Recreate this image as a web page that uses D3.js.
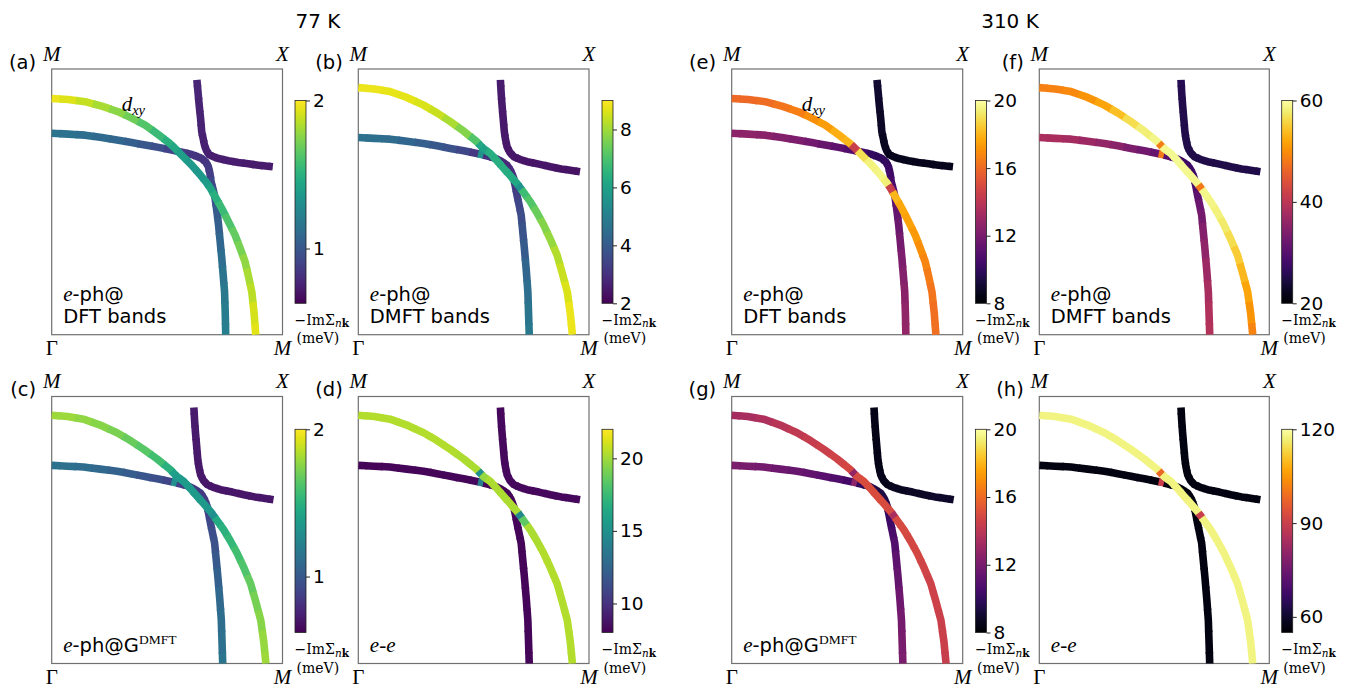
<!DOCTYPE html>
<html><head><meta charset="utf-8">
<script src="https://cdn.jsdelivr.net/npm/d3@7/dist/d3.min.js"></script>
<style>body{margin:0;background:#fff} svg{display:block}</style>
</head><body><svg id="c" width="1352" height="688"></svg>
<script>
// ---------------- DATA ----------------
const titles = ["77 K", "310 K"];
const panelIds = ["a","b","c","d","e","f","g","h"];
const cornerLabels = ["M", "X", "\u0393", "M"];
const noteKinds = ["dft","dmft","gdmft","ee","dft","dmft","gdmft","ee"];
const cmapNames = ["viridis","viridis","viridis","viridis","inferno","inferno","inferno","inferno"];
const geoKinds = ["dft","dmft","dmft","dmft","dft","dmft","dmft","dmft"];

// Fermi-surface k-points (kx, ky in units of pi/a), DFT bands
const dftDxyK = [[0,0.889],[0.072,0.885],[0.145,0.877],[0.217,0.860],[0.289,0.839],[0.347,0.815],[0.405,0.789],[0.462,0.753],[0.510,0.721],[0.530,0.705],[0.563,0.676],[0.607,0.638],[0.645,0.600],[0.672,0.571],[0.688,0.551],[0.708,0.520],[0.737,0.475],[0.766,0.425],[0.795,0.374],[0.817,0.324],[0.838,0.274],[0.853,0.218],[0.867,0.161],[0.877,0.080],[0.884,0]];
const dftBetaK = [[0,0.758],[0.072,0.755],[0.145,0.751],[0.217,0.742],[0.289,0.732],[0.347,0.723],[0.405,0.714],[0.462,0.705],[0.520,0.695],[0.565,0.687],[0.607,0.678],[0.632,0.670],[0.650,0.663],[0.668,0.650],[0.679,0.632],[0.686,0.605],[0.691,0.575],[0.700,0.545],[0.708,0.513],[0.716,0.462],[0.723,0.412],[0.730,0.349],[0.737,0.286],[0.743,0.224],[0.749,0.161],[0.752,0.080],[0.754,0]];
const dftAlphaK = [[0.629,0.959],[0.634,0.912],[0.639,0.864],[0.645,0.814],[0.650,0.764],[0.656,0.739],[0.662,0.714],[0.670,0.694],[0.682,0.678],[0.700,0.670],[0.723,0.663],[0.766,0.655],[0.809,0.648],[0.852,0.643],[0.896,0.638],[0.927,0.635],[0.958,0.632]];
// DMFT bands
const dmftDxyK = [[0,0.930],[0.069,0.925],[0.138,0.915],[0.210,0.893],[0.283,0.864],[0.341,0.835],[0.399,0.802],[0.457,0.766],[0.514,0.726],[0.529,0.712],[0.543,0.700],[0.572,0.682],[0.601,0.655],[0.630,0.626],[0.659,0.598],[0.688,0.569],[0.700,0.555],[0.717,0.535],[0.746,0.500],[0.775,0.458],[0.804,0.412],[0.833,0.358],[0.862,0.299],[0.884,0.232],[0.906,0.161],[0.919,0.080],[0.928,0]];
const dmftBetaK = [[0,0.742],[0.069,0.739],[0.138,0.736],[0.210,0.728],[0.283,0.720],[0.341,0.711],[0.399,0.701],[0.457,0.692],[0.514,0.682],[0.530,0.679],[0.560,0.672],[0.587,0.666],[0.617,0.654],[0.645,0.638],[0.662,0.615],[0.674,0.588],[0.681,0.557],[0.688,0.525],[0.697,0.488],[0.706,0.450],[0.713,0.387],[0.720,0.324],[0.728,0.243],[0.735,0.161],[0.738,0.080],[0.741,0]];
const dmftAlphaK = [[0.616,0.959],[0.619,0.912],[0.623,0.864],[0.628,0.814],[0.633,0.764],[0.638,0.735],[0.645,0.707],[0.657,0.686],[0.674,0.670],[0.700,0.660],[0.732,0.651],[0.783,0.642],[0.833,0.632],[0.880,0.624],[0.925,0.618],[0.961,0.613]];

// -Im Sigma_nk (meV) along each sheet
const dxyA = [1.96,1.93,1.88,1.82,1.76,1.70,1.63,1.56,1.50,1.45,1.40,1.37,1.36,1.38,1.43,1.50,1.56,1.62,1.67,1.72,1.77,1.82,1.86,1.91,1.94];
const betaA = [1.15,1.14,1.12,1.10,1.08,1.04,1.00,0.96,0.90,0.86,0.84,0.83,0.83,0.84,0.86,0.88,0.92,0.95,0.97,1.01,1.04,1.08,1.12,1.15,1.18,1.20,1.21];
const alphaA = [0.77,0.77,0.76,0.76,0.76,0.75,0.75,0.75,0.75,0.74,0.74,0.74,0.74,0.73,0.73,0.73,0.73];

const dxyB = [8.8,8.8,8.75,8.7,8.6,8.4,8.1,7.7,7.1,6.2,6.0,6.4,6.4,6.4,6.3,6.2,5.6,6.8,7.1,7.4,7.7,7.9,8.2,8.4,8.6,8.8,8.8];
const betaB = [4.6,4.55,4.45,4.3,4.1,3.9,3.75,3.5,3.1,5.6,3.0,2.9,2.8,2.8,2.9,3.0,3.1,3.3,3.5,3.6,3.8,4.0,4.3,4.5,4.7,4.8];
const alphaB = [2.5,2.5,2.48,2.46,2.45,2.44,2.43,2.42,2.4,2.4,2.38,2.37,2.36,2.35,2.35,2.35];

const dxyC = [1.80,1.79,1.77,1.75,1.72,1.68,1.64,1.58,1.50,1.40,1.37,1.37,1.37,1.36,1.36,1.35,1.30,1.46,1.50,1.54,1.58,1.62,1.67,1.71,1.75,1.78,1.80];
const betaC = [1.14,1.13,1.11,1.08,1.05,1.02,0.99,0.95,0.91,1.30,0.88,0.86,0.85,0.85,0.85,0.87,0.89,0.92,0.95,0.97,1.00,1.04,1.08,1.11,1.13,1.15];
const alphaC = [0.72,0.72,0.72,0.71,0.71,0.71,0.71,0.71,0.70,0.70,0.70,0.70,0.70,0.70,0.70,0.70];

const dxyD = [20.4,20.4,20.4,20.4,20.4,20.4,20.4,20.3,20.2,15.0,19.8,20.3,20.3,20.3,20.3,20.2,14.5,18.5,20.2,20.3,20.4,20.4,20.4,20.4,20.4,20.4,20.4];
const betaD = [8.2,8.2,8.2,8.2,8.2,8.2,8.2,8.2,8.3,14.0,8.2,8.2,8.2,8.2,8.2,8.2,8.3,8.2,8.2,8.2,8.2,8.2,8.2,8.2,8.2,8.2];
const alphaD = [8.3,8.3,8.3,8.3,8.3,8.3,8.3,8.3,8.3,8.3,8.3,8.3,8.3,8.3,8.3,8.3];

const dxyE = [16.0,16.0,16.1,16.3,16.6,17.0,17.4,17.8,18.0,14.5,19.0,19.5,19.6,19.4,14.5,18.0,17.7,17.5,17.3,17.0,16.8,16.5,16.3,16.2,16.2];
const betaE = [12.6,12.6,12.5,12.3,12.1,11.8,11.5,11.2,10.9,10.4,10.1,9.9,9.9,10.0,10.2,10.4,10.6,10.8,11.0,11.3,11.6,11.9,12.1,12.3,12.5,12.7,12.8];
const alphaE = [9.1,9.0,8.9,8.8,8.8,8.7,8.7,8.7,8.6,8.6,8.6,8.6,8.6,8.6,8.6,8.6,8.6];

const dxyF = [48.8,49.0,49.6,50.5,52.0,54.0,56.5,58.0,58.8,48.5,59.0,59.2,59.2,59.2,59.0,58.8,48.0,58.8,58.6,58.3,57.5,56.5,55.0,53.5,52.0,50.5,49.2];
const betaF = [38.4,38.2,37.8,37.0,36.0,35.0,33.8,32.5,31.5,48.0,30.0,29.0,28.0,27.5,27.5,28.0,29.0,30.5,32.0,33.0,34.5,35.5,37.0,38.0,38.8,39.2];
const alphaF = [25.5,25.4,25.3,25.2,25.1,25.0,25.0,25.0,25.0,25.0,25.0,25.0,25.0,25.0,25.0,25.0];

const dxyG = [13.3,13.4,13.6,13.9,14.1,14.3,14.5,14.7,14.8,12.8,14.9,15.0,15.0,15.0,15.0,14.9,13.5,14.9,14.9,14.8,14.8,14.7,14.6,14.6,14.5,14.5,14.4];
const betaG = [12.1,12.0,11.9,11.7,11.5,11.3,11.1,10.8,10.5,12.6,10.0,9.7,9.5,9.4,9.5,9.7,10.0,10.3,10.6,10.9,11.2,11.4,11.7,11.9,12.0,12.1];
const alphaG = [8.5,8.5,8.5,8.5,8.5,8.5,8.6,8.6,8.6,8.7,8.7,8.8,8.8,8.9,8.9,8.9];

const dxyH = [117.5,117.5,117.5,117.5,117.5,117.5,117.5,117.5,117.5,98,117.5,117.5,117.5,117.5,117.5,117.5,90,117.5,117.5,117.5,117.5,117.5,117.5,117.5,117.5,117.5,117.5];
const betaH = [57,57,57,57,57,57,57,57,57,90,57,57,57,57,57,57,57,57,57,57,57,57,57,57,57,57];
const alphaH = [57,57,57,57,57,57,57,57,57,57,57,57,57,57,57,57];

// colour-bar ranges and ticks
const cbarDomains = [[0.63,2.0],[2.0,9.0],[0.62,2.0],[8.0,22.0],[8.0,20.0],[20.0,60.0],[8.0,20.0],[55.0,120.0]];
const cbarTicks = [[1,2],[2,4,6,8],[1,2],[10,15,20],[8,12,16,20],[20,40,60],[8,12,16,20],[60,90,120]];

// ---------------- LAYOUT ----------------
const svg = d3.select("#c");
const defs = svg.append("defs");
const SANS = "DejaVu Sans";
const SERIF = "Liberation Serif";
const SERIF2 = "DejaVu Serif";
const panelCol = [0,1,0,1,2,3,2,3];
const panelRow = [0,0,1,1,0,0,1,1];
const colX = [[51.7,282.5],[358.3,589.0],[731.7,962.7],[1039.3,1269.3]];
const rowY = [[69,334.7],[396.5,663.5]];
const cbX = [295,602,975.5,1281.7];
const cbY = [[100.5,303.3],[429.3,632.5]];
const cbW = 11;

const geos = {dft: [dftDxyK, dftBetaK, dftAlphaK], dmft: [dmftDxyK, dmftBetaK, dmftAlphaK]};
const vals = [[dxyA,betaA,alphaA],[dxyB,betaB,alphaB],[dxyC,betaC,alphaC],[dxyD,betaD,alphaD],
              [dxyE,betaE,alphaE],[dxyF,betaF,alphaF],[dxyG,betaG,alphaG],[dxyH,betaH,alphaH]];
const interps = {viridis: d3.interpolateViridis, inferno: d3.interpolateInferno};

// titles
svg.append("text").attr("x",318).attr("y",28).attr("text-anchor","middle")
  .attr("font-family",SANS).attr("font-size",20).text(titles[0]);
svg.append("text").attr("x",1010).attr("y",28).attr("text-anchor","middle")
  .attr("font-family",SANS).attr("font-size",20).text(titles[1]);

function mid(a,b){return [(a[0]+b[0])/2,(a[1]+b[1])/2];}
function ext(a,p,d){ // extend point a away from p by d px
  const dx=a[0]-p[0], dy=a[1]-p[1], L=Math.hypot(dx,dy)||1;
  return [a[0]+dx/L*d, a[1]+dy/L*d];
}
const line = d3.line();

function drawSheet(g, K, V, x, y, color){
  const pts = K.map(k => [x(k[0]), y(k[1])]);
  pts.forEach((p,i) => {
    const a = i>0 ? ext(mid(pts[i-1],p),p,0.7) : p;
    const b = i<pts.length-1 ? ext(mid(p,pts[i+1]),p,0.7) : p;
    g.append("path").attr("d", line([a,p,b]))
      .attr("fill","none").attr("stroke", color(V[i]))
      .attr("stroke-width",7.6).attr("stroke-linejoin","round").attr("stroke-linecap","butt");
  });
}

panelIds.forEach((id, pi) => {
  const c = panelCol[pi], r = panelRow[pi];
  const g = svg.append("g");
  const x = d3.scaleLinear().domain([0,1]).range(colX[c]);
  const y = d3.scaleLinear().domain([0,1]).range([rowY[r][1], rowY[r][0]]);
  const color = d3.scaleSequential(interps[cmapNames[pi]]).domain(cbarDomains[pi]).clamp(true);

  // frame
  g.append("rect").attr("x",x(0)).attr("y",y(1)).attr("width",x(1)-x(0)).attr("height",y(0)-y(1))
    .attr("fill","none").attr("stroke","#707070").attr("stroke-width",1.2);

  // sheets: beta, alpha, then dxy on top
  const [Kd,Kb,Ka] = geos[geoKinds[pi]];
  const [Vd,Vb,Va] = vals[pi];
  drawSheet(g, Kb, Vb, x, y, color);
  drawSheet(g, Ka, Va, x, y, color);
  drawSheet(g, Kd, Vd, x, y, color);

  // corner labels
  const cl = [[x(0), y(1)-8.5, true],[x(1), y(1)-8.5, true],[x(0), y(0)+20.5, false],[x(1), y(0)+20.5, true]];
  cl.forEach((d,i) => {
    g.append("text").attr("x",d[0]).attr("y",d[1]).attr("text-anchor","middle")
      .attr("font-family",SERIF).attr("font-size",21).attr("font-style", d[2]?"italic":"normal")
      .text(cornerLabels[i]);
  });

  // panel letter
  g.append("text").attr("x",x(0)-15.5).attr("y",y(1)-0.5).attr("text-anchor","end")
    .attr("font-family",SANS).attr("font-size",19.5).text("("+id+")");

  // annotation
  const nx = x(0)+11.5, nb = y(0)-11.5;
  const kind = noteKinds[pi];
  if (kind==="ee"){
    const t = g.append("text").attr("x",nx).attr("y",nb).attr("font-family",SERIF).attr("font-size",21).attr("font-style","italic");
    t.append("tspan").text("e");
    t.append("tspan").attr("font-style","normal").text("-");
    t.append("tspan").text("e");
  } else {
    const line1y = kind==="gdmft" ? nb : nb-22;
    const t = g.append("text").attr("x",nx).attr("y",line1y).attr("font-family",SANS).attr("font-size",19.5);
    t.append("tspan").attr("font-family",SERIF).attr("font-style","italic").attr("font-size",21).text("e");
    t.append("tspan").text("-ph@");
    if (kind==="gdmft"){
      t.append("tspan").text("G");
      t.append("tspan").attr("font-family",SERIF).attr("font-size",13.5).attr("dy",-8).text("DMFT");
    } else {
      g.append("text").attr("x",nx).attr("y",nb).attr("font-family",SANS).attr("font-size",19.5)
        .text(kind==="dft" ? "DFT bands" : "DMFT bands");
    }
  }
  // d_xy label on (a) and (e)
  if (id==="a" || id==="e"){
    const t = g.append("text").attr("x",x(0.303)).attr("y",y(0.842)).attr("font-family",SERIF)
      .attr("font-style","italic").attr("font-size",21);
    t.append("tspan").text("d");
    t.append("tspan").attr("font-size",14.5).attr("dy",4.5).text("xy");
  }

  // colour bar
  const bx = cbX[c], by0 = cbY[r][0], by1 = cbY[r][1];
  const cy = d3.scaleLinear().domain(cbarDomains[pi]).range([by1, by0]);
  const gid = "grad"+id;
  const grad = defs.append("linearGradient").attr("id",gid).attr("x1",0).attr("y1",1).attr("x2",0).attr("y2",0);
  d3.range(0,1.0001,0.05).forEach(s => {
    const v = cbarDomains[pi][0] + s*(cbarDomains[pi][1]-cbarDomains[pi][0]);
    grad.append("stop").attr("offset", s).attr("stop-color", color(v));
  });
  g.append("rect").attr("x",bx).attr("y",by0).attr("width",cbW).attr("height",by1-by0)
    .attr("fill","url(#"+gid+")").attr("stroke","#222").attr("stroke-width",0.8);
  const ax = g.append("g").attr("transform","translate("+(bx+cbW)+",0)")
    .call(d3.axisRight(cy).tickValues(cbarTicks[pi]).tickSize(4).tickPadding(3).tickFormat(d3.format("d")));
  ax.select(".domain").remove();
  ax.selectAll("text").attr("font-family",SANS).attr("font-size",18.5).attr("fill","#000");
  ax.selectAll("line").attr("stroke","#222");

  // colour bar label
  const lt = g.append("text").attr("x",bx-0.5).attr("y",by1+21.5).attr("font-family",SERIF2).attr("font-size",14);
  lt.append("tspan").text("\u2212Im\u03A3");
  lt.append("tspan").attr("font-size",10.5).attr("dy",2.5).attr("font-style","italic").text("n");
  lt.append("tspan").attr("font-size",10.5).attr("font-weight","bold").text("k");
  g.append("text").attr("x",bx+1.5).attr("y",by1+40).attr("font-family",SERIF2).attr("font-size",14).text("(meV)");
});
</script></body></html>
